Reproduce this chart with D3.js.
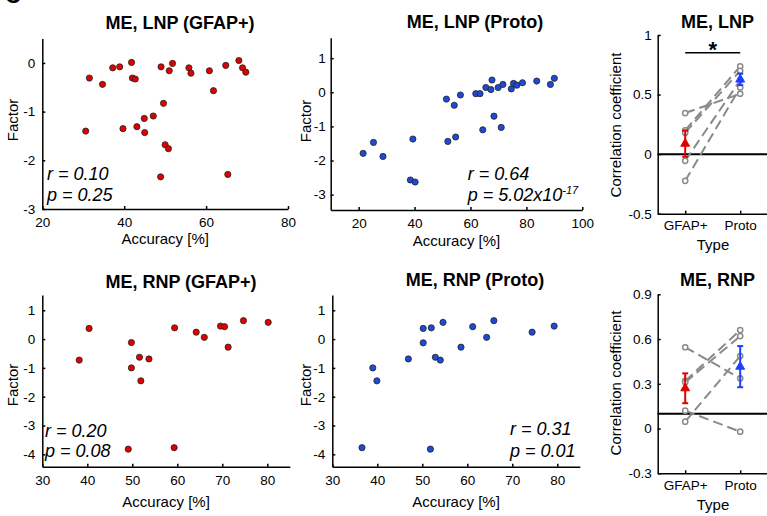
<!DOCTYPE html>
<html>
<head>
<meta charset="utf-8">
<script src="https://cdn.jsdelivr.net/npm/d3@7"></script>
<style>
  body { margin: 0; background: #fff; }
  svg { display: block; font-family: "Liberation Sans", Arial, sans-serif; }
  .axis path, .axis line { stroke: #000; stroke-width: 1.5; }
  .axis text { font-size: 13.5px; fill: #000; font-family: "Liberation Sans", Arial, sans-serif; }
  .title { font-size: 18px; font-weight: bold; text-anchor: middle; }
  .label { font-size: 15px; text-anchor: middle; }
  .stat { font-size: 18px; font-style: italic; }
</style>
</head>
<body>
<svg width="767" height="516"></svg>
<script>
// ---- data ----
// ME, LNP (GFAP+)
const lnpGfapAcc = [31.5, 34.7, 37.2, 38.9, 41.8, 42.0, 42.7, 49.0, 51.0, 51.8, 55.8, 56.3, 60.8, 61.8, 64.8,
  68.0, 68.9, 69.7, 49.6, 47.1, 44.9, 30.6, 39.7, 43.1, 45.0, 50.0, 50.8, 48.9, 65.3];
const lnpGfapFactor = [-0.31, -0.44, -0.10, -0.08, 0.01, -0.31, -0.33, -0.08, -0.16, -0.01, -0.10, -0.21, -0.16, -0.57, -0.05,
  0.05, -0.10, -0.19, -0.83, -1.09, -1.14, -1.40, -1.35, -1.31, -1.43, -1.68, -1.76, -2.34, -2.29];

// ME, LNP (Proto)
const lnpProtoAcc = [21.6, 25.3, 28.7, 39.4, 38.5, 40.2, 51.4, 51.9, 54.2, 54.7, 56.4, 61.9, 63.4, 64.4,
  65.5, 67.3, 67.7, 68.4, 69.9, 71.0, 71.6, 74.6, 75.4, 76.6, 78.6, 83.7, 88.6, 90.0];
const lnpProtoFactor = [-1.79, -1.47, -1.88, -1.37, -2.57, -2.63, -0.20, -1.44, -0.38, -1.31, -0.08, -0.04, -0.04, -1.10,
  0.14, 0.08, 0.36, -0.70, 0.14, -1.03, 0.23, 0.10, 0.26, 0.21, 0.28, 0.33, 0.23, 0.41];

// ME, RNP (GFAP+)
const rnpGfapAcc = [38.2, 40.4, 49.1, 49.8, 49.8, 51.6, 51.9, 53.7, 59.4, 59.3, 64.2, 66.0, 69.6, 70.5, 71.3, 74.7, 80.2];
const rnpGfapFactor = [-0.73, 0.37, -3.82, -0.12, -1.0, -0.63, -1.45, -0.69, 0.39, -3.77, 0.24, 0.06, 0.45, 0.43, -0.28, 0.64, 0.58];

// ME, RNP (Proto)
const rnpProtoAcc = [36.6, 39.0, 39.9, 46.9, 50.2, 50.2, 52.0, 52.9, 54.0, 54.6, 51.8, 58.6, 61.2, 64.3, 65.9, 74.4, 79.3];
const rnpProtoFactor = [-3.77, -1.0, -1.45, -0.69, 0.37, -0.13, 0.39, -0.63, -0.73, 0.58, -3.82, -0.28, 0.43, 0.06, 0.64, 0.24, 0.45];

// correlation coefficients per subject, and group mean / error
const typeCats = ["GFAP+", "Proto"];
const lnpCorrGfap = [0.345, 0.20, 0.18, -0.056, -0.224];
const lnpCorrProto = [0.507, 0.737, 0.70, 0.62, 0.56];
const lnpMean = [0.088, 0.627];
const lnpErr = [0.11, 0.048];
const rnpCorrGfap = [0.545, 0.319, 0.31, 0.12, 0.046];
const rnpCorrProto = [0.337, 0.66, 0.62, -0.021, 0.486];
const rnpMean = [0.27, 0.415];
const rnpErr = [0.10, 0.138];

const red = "#e00000", blue = "#1f4ad6";
const svg = d3.select("svg");

// cut-off panel letter in the corner
svg.append("text").attr("x", 5).attr("y", 3).style("font-size", "22px").style("font-weight", "bold").text("C");

function yLabel(text, x, y) {
  svg.append("text").attr("class", "label")
    .attr("transform", `translate(${x},${y}) rotate(-90)`).text(text);
}

// ---- scatter panel ----
function scatter(p) {
  const x = d3.scaleLinear().domain(p.xDomain).range(p.xRange);
  const y = d3.scaleLinear().domain(p.yDomain).range(p.yRange);

  svg.append("g").attr("class", "axis")
    .attr("transform", `translate(0,${p.yRange[0]})`)
    .call(d3.axisBottom(x).tickValues(p.xTicks).tickSize(-3).tickSizeOuter(0)
      .tickPadding(p.xPad).tickFormat(d => String(d)));

  svg.append("g").attr("class", "axis")
    .attr("transform", `translate(${p.xRange[0]},0)`)
    .call(d3.axisLeft(y).tickValues(p.yTicks).tickSize(-3).tickSizeOuter(0)
      .tickPadding(p.yPad).tickFormat(d => String(d)));

  svg.append("g").selectAll("circle")
    .data(d3.zip(p.acc, p.factor))
    .join("circle")
    .attr("cx", d => x(d[0]))
    .attr("cy", d => y(d[1]))
    .attr("r", 3.1)
    .attr("fill", p.color)
    .attr("stroke", "#222")
    .attr("stroke-width", 0.8);

  svg.append("text").attr("class", "title").attr("x", p.titleX).attr("y", p.titleY).text(p.title);
  svg.append("text").attr("class", "label").attr("x", (p.xRange[0] + p.xRange[1]) / 2).attr("y", p.xLabelY).text("Accuracy [%]");
  yLabel("Factor", p.yLabelX, p.yLabelY);

  svg.append("text").attr("class", "stat").attr("x", p.statX).attr("y", p.statY[0]).text(p.rText);
  const pt = svg.append("text").attr("class", "stat").attr("x", p.statX).attr("y", p.statY[1]).text(p.pText);
  if (p.pSup) {
    pt.append("tspan").attr("dy", -7).style("font-size", "11px").text(p.pSup);
  }
}

// ---- correlation coefficient panel ----
function corrPanel(p) {
  const x = d3.scaleLinear().domain([0.5, 2.5]).range([657.7, 767.7]);
  const y = d3.scaleLinear().domain(p.yDomain).range(p.yRange);

  svg.append("g").attr("class", "axis")
    .attr("transform", `translate(0,${p.yRange[0]})`)
    .call(d3.axisBottom(x).tickValues([1, 2]).tickSize(-3).tickSizeOuter(0)
      .tickPadding(7).tickFormat(d => typeCats[d - 1]));

  svg.append("g").attr("class", "axis")
    .attr("transform", `translate(${x.range()[0]},0)`)
    .call(d3.axisLeft(y).tickValues(p.yTicks).tickSize(-3).tickSizeOuter(0)
      .tickPadding(6).tickFormat(d => String(d)));

  // reference line
  svg.append("line")
    .attr("x1", x.range()[0]).attr("x2", 767)
    .attr("y1", y(p.refLine)).attr("y2", y(p.refLine))
    .attr("stroke", "#000").attr("stroke-width", 2);

  // paired subject lines
  const pairs = d3.zip(p.gfap, p.proto);
  svg.append("g").selectAll("line")
    .data(pairs)
    .join("line")
    .attr("x1", x(1)).attr("x2", x(2))
    .attr("y1", d => y(d[0])).attr("y2", d => y(d[1]))
    .attr("stroke", "#8a8a8a").attr("stroke-width", 2)
    .attr("stroke-dasharray", "10,5");

  const pts = p.gfap.map(v => [1, v]).concat(p.proto.map(v => [2, v]));
  svg.append("g").selectAll("circle")
    .data(pts)
    .join("circle")
    .attr("cx", d => x(d[0])).attr("cy", d => y(d[1]))
    .attr("r", 2.6)
    .attr("fill", "#fff").attr("stroke", "#8a8a8a").attr("stroke-width", 1.5);

  // significance bar
  if (p.sig != null) {
    svg.append("line")
      .attr("x1", x(1)).attr("x2", x(2))
      .attr("y1", y(p.sig)).attr("y2", y(p.sig))
      .attr("stroke", "#000").attr("stroke-width", 1.5);
    svg.append("text")
      .attr("x", (x(1) + x(2)) / 2).attr("y", y(p.sig) + 4)
      .attr("text-anchor", "middle")
      .style("font-size", "22px").style("font-weight", "bold")
      .text("*");
  }

  // mean +/- error
  const colors = [red, "#1f3fff"];
  p.mean.forEach((m, i) => {
    const cx = x(i + 1);
    const g = svg.append("g").attr("stroke", colors[i]).attr("stroke-width", 2);
    g.append("line").attr("x1", cx).attr("x2", cx).attr("y1", y(m - p.err[i])).attr("y2", y(m + p.err[i]));
    g.append("line").attr("x1", cx - 3).attr("x2", cx + 3).attr("y1", y(m - p.err[i])).attr("y2", y(m - p.err[i]));
    g.append("line").attr("x1", cx - 3).attr("x2", cx + 3).attr("y1", y(m + p.err[i])).attr("y2", y(m + p.err[i]));
    svg.append("path")
      .attr("d", d3.symbol(d3.symbolTriangle, 34)())
      .attr("transform", `translate(${cx},${y(m)})`)
      .attr("fill", colors[i]).attr("stroke", colors[i]);
  });

  svg.append("text").attr("class", "title").attr("x", 717.5).attr("y", p.titleY).text(p.title);
  svg.append("text").attr("class", "label").attr("x", 713).attr("y", p.xLabelY).text("Type");
  yLabel("Correlation coefficient", 621, p.yLabelY);
}

// ---- panels ----
scatter({
  acc: lnpGfapAcc, factor: lnpGfapFactor, color: red,
  xDomain: [20, 80], xRange: [42.3, 288], xTicks: [20, 40, 60, 80], xPad: 8,
  yDomain: [-3, 0.5], yRange: [209, 38.6], yTicks: [-3, -2, -1, 0], yPad: 7,
  title: "ME, LNP (GFAP+)", titleX: 180, titleY: 28.5,
  xLabelY: 244, yLabelX: 18, yLabelY: 120,
  statX: 47, statY: [180, 201], rText: "r = 0.10", pText: "p = 0.25"
});

scatter({
  acc: lnpProtoAcc, factor: lnpProtoFactor, color: blue,
  xDomain: [10, 100], xRange: [330.7, 582.3], xTicks: [20, 40, 60, 80, 100], xPad: 8,
  yDomain: [-3.45, 1.6], yRange: [210, 37.7], yTicks: [-3, -2, -1, 0, 1], yPad: 5,
  title: "ME, LNP (Proto)", titleX: 475, titleY: 28,
  xLabelY: 246, yLabelX: 311, yLabelY: 121,
  statX: 467.7, statY: [180, 201], rText: "r = 0.64", pText: "p = 5.02x10", pSup: "-17"
});

corrPanel({
  gfap: lnpCorrGfap, proto: lnpCorrProto, mean: lnpMean, err: lnpErr,
  yDomain: [-0.5, 1], yRange: [213.7, 35], yTicks: [-0.5, 0, 0.5, 1],
  refLine: 0, sig: 0.85,
  title: "ME, LNP", titleY: 28, xLabelY: 250, yLabelY: 125
});

scatter({
  acc: rnpGfapAcc, factor: rnpGfapFactor, color: red,
  xDomain: [30, 85], xRange: [42.3, 289.8], xTicks: [30, 40, 50, 60, 70, 80], xPad: 9,
  yDomain: [-4.43, 1.53], yRange: [466.7, 295], yTicks: [-4, -3, -2, -1, 0, 1], yPad: 7,
  title: "ME, RNP (GFAP+)", titleX: 181, titleY: 288,
  xLabelY: 507, yLabelX: 18, yLabelY: 385,
  statX: 45, statY: [436.5, 456.5], rText: "r = 0.20", pText: "p = 0.08"
});

scatter({
  acc: rnpProtoAcc, factor: rnpProtoFactor, color: blue,
  xDomain: [30, 85], xRange: [332.3, 579.8], xTicks: [30, 40, 50, 60, 70, 80], xPad: 9,
  yDomain: [-4.43, 1.53], yRange: [466.7, 295], yTicks: [-4, -3, -2, -1, 0, 1], yPad: 7,
  title: "ME, RNP (Proto)", titleX: 475, titleY: 286,
  xLabelY: 507, yLabelX: 311, yLabelY: 385,
  statX: 510, statY: [435, 456.5], rText: "r = 0.31", pText: "p = 0.01"
});

corrPanel({
  gfap: rnpCorrGfap, proto: rnpCorrProto, mean: rnpMean, err: rnpErr,
  yDomain: [-0.3, 0.9], yRange: [473.3, 294.3], yTicks: [-0.3, 0, 0.3, 0.6, 0.9],
  refLine: 0.1, sig: null,
  title: "ME, RNP", titleY: 286, xLabelY: 510, yLabelY: 383
});
</script>
</body>
</html>
